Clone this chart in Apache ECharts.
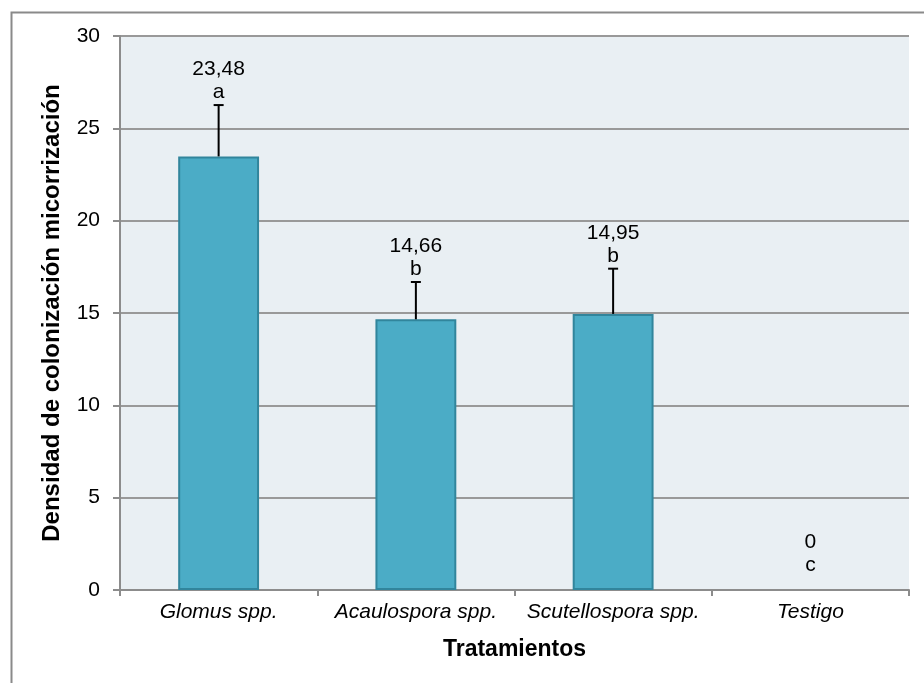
<!DOCTYPE html>
<html>
<head>
<meta charset="utf-8">
<script src="https://cdn.jsdelivr.net/npm/echarts@6/dist/echarts.min.js"></script>
<style>
html, body { margin: 0; padding: 0; background: #fff; }
#chartmain { width: 924px; height: 683px; }
</style>
</head>
<body>
<div id="chartmain"></div>
<script>
var categories = ['Glomus spp.', 'Acaulospora spp.', 'Scutellospora spp.', 'Testigo'];
var densidad = [23.48, 14.66, 14.95, 0];
var errores = [2.78, 2.02, 2.45, 0];
var letras = ['a', 'b', 'b', 'c'];
var yTicks = [0, 5, 10, 15, 20, 25, 30];

var FONT = '"Liberation Sans", Arial, sans-serif';

function fmt(v) {
	return v === 0 ? '0' : v.toFixed(2).replace('.', ',');
}

// barras de error + etiquetas
function renderError(params, api) {
	var idx = api.value(0);
	var val = api.value(1);
	var err = api.value(2);
	var top = api.coord([idx, val + err]);
	var bar = api.coord([idx, val]);
	var base = api.coord([idx, 0]);
	var children = [];
	if (err > 0) {
		children.push({
			type : 'line',
			shape : { x1 : top[0], y1 : bar[1], x2 : top[0], y2 : top[1] },
			style : { stroke : '#000', lineWidth : 2 }
		});
		children.push({
			type : 'line',
			shape : { x1 : top[0] - 5, y1 : top[1], x2 : top[0] + 5, y2 : top[1] },
			style : { stroke : '#000', lineWidth : 2 }
		});
	}
	var letterBase = Math.min(top[1] - 5, base[1] - 17);
	children.push({
		type : 'text',
		style : {
			text : letras[params.dataIndex], x : top[0], y : letterBase - 7.5,
			align : 'center', verticalAlign : 'middle',
			font : '21px ' + FONT, fill : '#000'
		}
	});
	children.push({
		type : 'text',
		style : {
			text : fmt(val), x : top[0], y : letterBase - 23 - 7.5,
			align : 'center', verticalAlign : 'middle',
			font : '21px ' + FONT, fill : '#000'
		}
	});
	return { type : 'group', children : children };
}

var errData = densidad.map(function(v, i) { return [i, v, errores[i]]; });
var barData = densidad.map(function(v) {
	return v === 0 ? { value : v, itemStyle : { borderWidth : 0 } } : v;
});

var option = {
	animation : false,
	backgroundColor : '#fff',
	graphic : [ {
		type : 'rect',
		left : 9, top : 10,
		shape : { x : 0, y : 0, width : 1000, height : 1000 },
		style : { fill : 'none', stroke : '#8a8a8a', lineWidth : 2 },
		silent : true
	} ],
	grid : {
		left : 120, right : 15, top : 36, bottom : 93,
		show : true, backgroundColor : '#e9eff3', borderWidth : 0
	},
	xAxis : {
		type : 'category',
		data : categories,
		name : 'Tratamientos',
		nameLocation : 'middle',
		nameGap : 48,
		nameTextStyle : { fontFamily : FONT, fontSize : 23, fontWeight : 'bold', color : '#000' },
		axisLine : { lineStyle : { color : '#8c8c8c', width : 2 } },
		axisTick : { show : true, length : 6, interval : 0, lineStyle : { color : '#8c8c8c', width : 2 } },
		axisLabel : { fontFamily : FONT, fontSize : 21, fontStyle : 'italic', color : '#000', margin : 12, interval : 0 }
	},
	yAxis : {
		type : 'value',
		min : 0, max : 30, interval : 5,
		name : 'Densidad de colonización micorrización',
		nameLocation : 'middle',
		nameGap : 56,
		nameTextStyle : { fontFamily : FONT, fontSize : 24, fontWeight : 'bold', color : '#000' },
		axisLine : { show : true, lineStyle : { color : '#8c8c8c', width : 2 } },
		axisTick : { show : true, length : 7, lineStyle : { color : '#8c8c8c', width : 2 } },
		axisLabel : {
			fontFamily : FONT, fontSize : 21, color : '#000', margin : 20,
			formatter : function(v) { return yTicks.indexOf(v) >= 0 ? String(v) : ''; }
		},
		splitLine : { lineStyle : { color : '#999', width : 2 } }
	},
	series : [ {
		name : 'Densidad',
		type : 'bar',
		data : barData,
		barWidth : '41%',
		itemStyle : { color : '#4bacc6', borderColor : '#31859c', borderWidth : 2 },
		z : 2
	}, {
		name : 'Error',
		type : 'custom',
		data : errData,
		renderItem : renderError,
		encode : { x : 0, y : 1 },
		z : 3
	} ]
};

var myChart = echarts.init(document.getElementById('chartmain'));
myChart.setOption(option);
</script>
</body>
</html>
